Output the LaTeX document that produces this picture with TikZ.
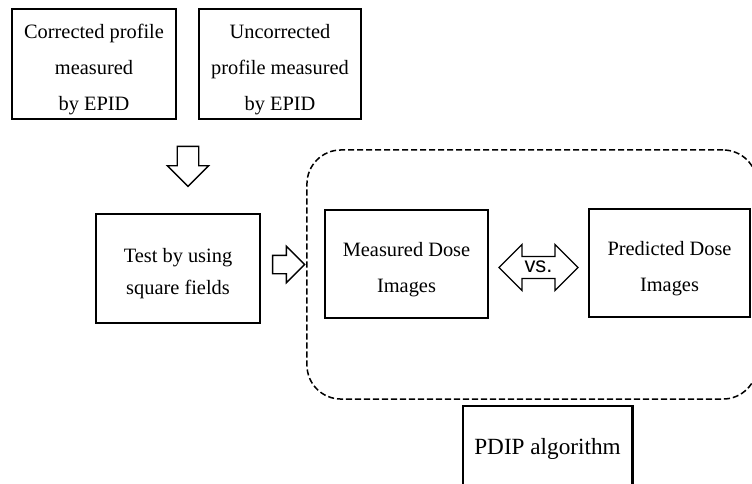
\documentclass[tikz,border=0pt]{standalone}
\usepackage{fontspec}
\setmainfont{Liberation Serif}
\newfontfamily\vsfont{Liberation Sans}
\usetikzlibrary{shapes.arrows}

\newcommand{\lowstrut}{\rule{0pt}{17.5pt}}

\begin{document}
\begin{tikzpicture}[x=0.025cm, y=-0.025cm,
      font=\fontsize{14.5}{25.6}\selectfont,
      box/.style={draw, line width=2.1pt, align=center, inner sep=0pt},
      thinbox/.style={box, line width=1.4pt},
      blockarrow/.style={draw, line width=0.95pt, single arrow, single arrow tip angle=90},
      group/.style={draw, dash pattern=on 4.3pt off 2.1pt, line width=1.07pt, rounded corners=0.85cm}]
    \useasboundingbox (0,0) rectangle (752,483);
    % frame round the dose images
    \node[group, minimum width=11.25cm, minimum height=6.225cm] (grp) at (532,274.5) {};
    \node[box, minimum width=4.1cm, minimum height=2.75cm]  (corr)   at (94,64)  {\lowstrut Corrected profile\\measured\\by EPID};
    \node[box, minimum width=4.05cm, minimum height=2.75cm] (uncorr) at (280,64) {\lowstrut Uncorrected\\profile measured\\by EPID};
    \node[blockarrow, shape border rotate=270, inner sep=0.25cm, single arrow head extend=0.25cm,
          minimum height=1cm] (down) at (188,161) {};
    \node[box, line width=1.65pt, minimum width=4.1cm, minimum height=2.725cm, font=\fontsize{14.5}{23}\selectfont] (test) at (178,268.5) {\lowstrut Test by using\\square fields};
    \node[blockarrow, inner sep=0.2125cm, single arrow head extend=0.225cm, minimum height=0.8cm] (right) at (284,264.5) {};
    \node[thinbox, minimum width=4.075cm, minimum height=2.7cm] (meas) at (406.5,264) {\lowstrut Measured Dose\\Images};
    \node[draw, line width=0.95pt, double arrow, double arrow tip angle=90, double arrow head extend=0.3cm,
          inner xsep=0.0625cm, inner ysep=0pt, text height=0.39cm, text depth=0.13cm, minimum height=1.975cm,
          font=\vsfont\fontsize{15.5}{18}\selectfont] (vs) at (538.5,267.5) {vs.};
    \node[thinbox, minimum width=4.025cm, minimum height=2.7cm] (pred) at (669.5,263) {\lowstrut Predicted Dose\\Images};
    \node[box, minimum width=4.225cm, minimum height=2.15cm, font=\fontsize{16.5}{20}\selectfont] (pdip) at (547.5,449) {PDIP algorithm};
  \end{tikzpicture}
\end{document}
